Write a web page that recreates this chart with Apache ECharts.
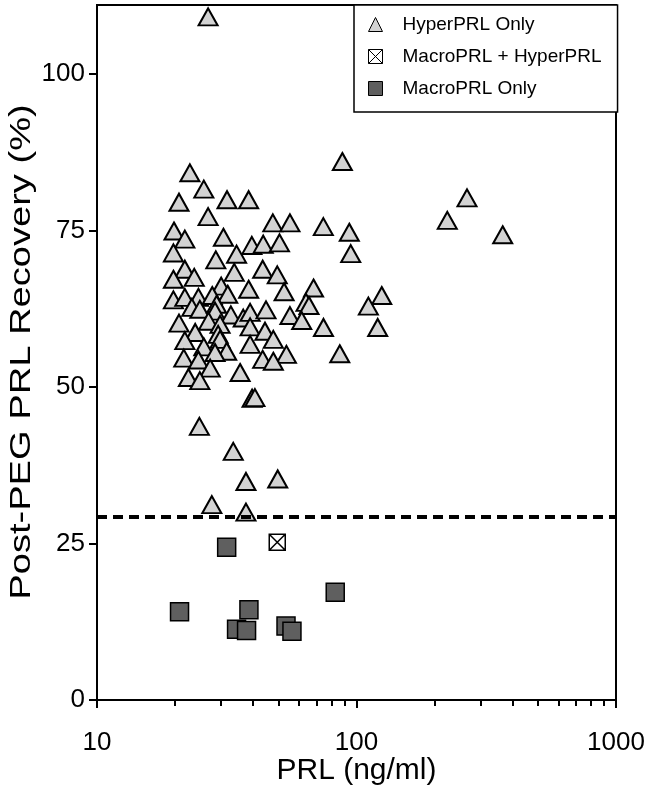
<!DOCTYPE html>
<html>
<head>
<meta charset="utf-8">
<script src="https://cdn.jsdelivr.net/npm/echarts@6/dist/echarts.min.js"></script>
<style>
html,body{margin:0;padding:0;background:#fff;}
#chart{width:647px;height:787px;}
</style>
</head>
<body>
<div id="chart"></div>
<script>
// ---- data (PRL ng/ml, post-PEG recovery %) ----
const hyperPoints = [
[26.8,109.1],[22.8,84.2],[25.8,81.6],[20.7,79.5],[31.7,79.9],[38.4,79.9],[26.8,77.2],[19.8,74.9],[21.8,73.6],[30.7,73.9],
[47.6,76.2],[55.4,76.2],[74.5,75.6],[88.2,86.0],[266.6,80.2],[223.8,76.6],[365.9,74.3],[93.8,74.7],[95.0,71.3],[39.5,72.6],
[43.7,72.8],[50.5,73.0],[19.7,71.4],[28.7,70.3],[34.5,71.2],[21.8,68.8],[23.7,67.5],[19.7,67.2],[33.8,68.3],[43.5,68.8],
[49.5,67.9],[30.1,66.1],[38.4,65.6],[52.6,65.2],[68.3,65.8],[63.9,63.5],[65.6,63.0],[125.1,64.6],[111.1,62.9],[19.7,63.9],
[21.8,64.3],[24.6,64.3],[27.8,64.6],[31.9,64.8],[23.2,62.7],[24.9,62.4],[28.9,63.2],[28.5,62.1],[32.8,61.5],[36.6,61.0],
[38.9,61.9],[44.8,62.3],[55.4,61.4],[61.5,60.6],[74.6,59.5],[120.7,59.5],[20.7,60.2],[26.9,60.5],[29.8,60.0],[23.9,58.7],
[29.3,58.4],[38.9,59.6],[44.4,58.9],[21.8,57.4],[25.8,56.4],[29.8,57.6],[38.9,56.8],[31.6,55.7],[28.5,55.5],[21.6,54.6],
[24.6,54.3],[27.3,53.0],[22.5,51.5],[24.9,51.0],[35.6,52.3],[47.8,57.6],[53.7,55.2],[43.5,54.4],[47.8,54.1],[86.2,55.3],
[39.6,48.2],[40.6,48.3],[24.8,43.7],[33.5,39.7],[37.5,34.9],[49.7,35.3],[27.7,31.2],[37.5,30.0]
];
const comboPoints = [[49.5,25.2]];
const macroPoints = [
[31.6,24.4],[82.8,17.2],[20.8,14.1],[38.5,14.4],[34.5,11.3],[37.7,11.1],[53.5,11.8],[56.4,11.0]
];
const thresholdValue = 29.2;
const yTicks = [0,25,50,75,100];
const xMajorTicks = [10,100,1000];
const xMinorTicks = [20,30,40,50,60,70,80,90,200,300,400,500,600,700,800,900];
const seriesNames = ['HyperPRL Only','MacroPRL + HyperPRL','MacroPRL Only'];
const xTitle = 'PRL (ng/ml)';
const yTitle = 'Post-PEG PRL Recovery (%)';

const FONT = "'Liberation Sans', Arial, Helvetica, sans-serif";
const crossBox = 'path://M0,0 L10,0 L10,10 L0,10 Z M0,0 L10,10 M10,0 L0,10';

const chart = echarts.init(document.getElementById('chart'), null, {renderer:'canvas'});
chart.setOption({
  animation:false,
  backgroundColor:'#fff',
  textStyle:{fontFamily:FONT},
  grid:{left:97,right:31,top:5,bottom:87,show:true,borderColor:'#000',borderWidth:2,
        backgroundColor:'transparent',containLabel:false,outerBoundsMode:'none'},
  graphic:[{
    type:'text', x:22, y:352, silent:true,
    rotation:Math.PI/2, scaleX:1.27,
    style:{text:yTitle, fontSize:30, fill:'#000', fontFamily:FONT, align:'center', verticalAlign:'middle'}
  }],
  legend:{
    orient:'vertical', left:354, top:5,
    itemWidth:14, itemHeight:14, itemGap:11,
    padding:[9,16,13,14],
    backgroundColor:'#fff', borderColor:'#000', borderWidth:1.5, borderRadius:0,
    textStyle:{fontSize:19,lineHeight:21,color:'#000',fontFamily:FONT,padding:[0,0,0,15]},
    data:[
      {name:seriesNames[0], icon:'triangle', itemStyle:{color:'#d3d3d3',borderColor:'#000',borderWidth:1}},
      {name:seriesNames[1], icon:crossBox, itemStyle:{color:'#fff',borderColor:'#000',borderWidth:1}},
      {name:seriesNames[2], icon:'rect', itemStyle:{color:'#5f5f5f',borderColor:'#000',borderWidth:1}}
    ]
  },
  xAxis:[
    {
      type:'log', logBase:10, min:10, max:1000, gridIndex:0, position:'bottom',
      name:xTitle, nameLocation:'middle', nameGap:56, nameMoveOverlap:false,
      nameTextStyle:{fontSize:30,color:'#000',fontFamily:FONT},
      axisLine:{lineStyle:{color:'#000',width:2}},
      axisTick:{length:8,lineStyle:{color:'#000',width:2},customValues:xMajorTicks},
      axisLabel:{customValues:xMajorTicks,fontSize:26,color:'#000',margin:30,fontFamily:FONT,
        formatter:function(v){return String(Math.round(v));}},
      splitLine:{show:false}, minorTick:{show:false}
    },
    {
      type:'log', logBase:10, min:10, max:1000, gridIndex:0, position:'bottom',
      axisLine:{show:false},
      axisTick:{length:6,lineStyle:{color:'#000',width:2},customValues:xMinorTicks},
      axisLabel:{show:false},
      splitLine:{show:false}
    }
  ],
  yAxis:{
    type:'value', min:0, max:111, interval:25,
    axisLine:{show:true,lineStyle:{color:'#000',width:2}},
    axisTick:{show:true,length:8,lineStyle:{color:'#000',width:2},customValues:yTicks},
    axisLabel:{customValues:yTicks,fontSize:26,color:'#000',margin:12,fontFamily:FONT},
    splitLine:{show:false}
  },
  series:[
    {
      name:seriesNames[0], type:'scatter', xAxisIndex:0,
      symbol:'triangle', symbolSize:[19,17], clip:false,
      itemStyle:{color:'#d3d3d3',borderColor:'#000',borderWidth:2,opacity:1},
      data:hyperPoints,
      markLine:{
        silent:true, symbol:['none','none'], label:{show:false},
        lineStyle:{color:'#000',width:4,type:[10,6]},
        data:[{yAxis:thresholdValue}]
      }
    },
    {
      name:seriesNames[1], type:'scatter', xAxisIndex:0,
      symbol:crossBox, symbolSize:16,
      itemStyle:{color:'#fff',borderColor:'#000',borderWidth:1.5,opacity:1},
      data:comboPoints
    },
    {
      name:seriesNames[2], type:'scatter', xAxisIndex:0,
      symbol:'rect', symbolSize:18,
      itemStyle:{color:'#5f5f5f',borderColor:'#000',borderWidth:1.5,opacity:1},
      data:macroPoints
    }
  ]
});
</script>
</body>
</html>
